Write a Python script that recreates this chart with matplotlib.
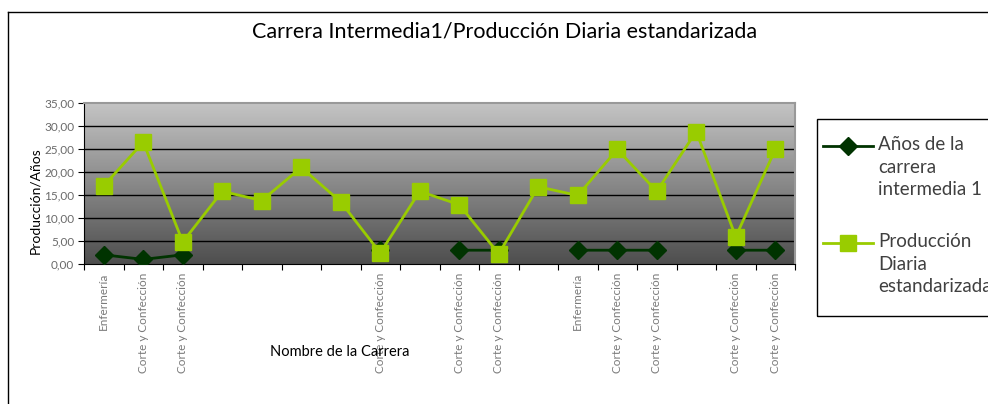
import numpy as np
import matplotlib
matplotlib.use("Agg")
import matplotlib.pyplot as plt
from matplotlib.lines import Line2D
from matplotlib.colors import LinearSegmentedColormap

plt.rcParams['font.family'] = ['Lato', 'DejaVu Sans']

categories = ["Enfermería", "Corte y Confección", "Corte y Confección", "", "", "", "",
              "Corte y Confección", "", "Corte y Confección", "Corte y Confección", "",
              "Enfermería", "Corte y Confección", "Corte y Confección", "",
              "Corte y Confección", "Corte y Confección"]
anios = [2, 1, 2, np.nan, np.nan, np.nan, np.nan, 3, np.nan, 3, 3, np.nan,
         3, 3, 3, np.nan, 3, 3]
produccion = [17, 26.5, 4.8, 15.8, 13.8, 21, 13.5, 2.4, 15.8, 12.9, 2.2, 16.8,
              14.9, 24.9, 15.8, 28.8, 5.9, 24.9]
yticks = [0, 5, 10, 15, 20, 25, 30, 35]
legend_labels = ["Años de la\ncarrera\nintermedia 1", "Producción\nDiaria\nestandarizada"]

DARK = '#003300'
GREEN = '#99cc00'

W, H = 988, 404
fig = plt.figure(figsize=(W / 100, H / 100), dpi=100)
fig.patch.set_facecolor('white')

ax = fig.add_axes([84 / W, 1 - 264 / H, 711 / W, 161 / H])
x = np.arange(len(categories))

# gradient background (light at top, dark at bottom)
cmap = LinearSegmentedColormap.from_list('g', ['#4e4e4e', '#c4c4c4'])
grad = np.linspace(0, 1, 256).reshape(-1, 1)
ax.imshow(grad, cmap=cmap, aspect='auto', origin='lower',
          extent=[-0.5, len(x) - 0.5, 0, 35], zorder=0, interpolation='bilinear')
ax.set_ylim(0, 35)
ax.set_xlim(-0.5, len(x) - 0.5)

for yv in yticks[1:-1]:
    ax.axhline(yv, color='black', lw=1.0, zorder=1)

ax.plot(x, anios, color=DARK, lw=2.0, marker='D', markersize=9,
        markerfacecolor=DARK, markeredgecolor=DARK, zorder=3)
ax.plot(x, produccion, color=GREEN, lw=2.0, marker='s', markersize=12,
        markerfacecolor=GREEN, markeredgecolor=GREEN, zorder=4)

ax.set_yticks(yticks)
ax.set_yticklabels([f"{v:.2f}".replace('.', ',') for v in yticks], fontsize=8.5,
                   color='#6a6a6a')
ax.set_xticks(np.arange(len(x) + 1) - 0.5)
ax.set_xticklabels([])
ax.set_xticks(x, minor=True)
ax.set_xticklabels(categories, minor=True, rotation=90, fontsize=8.5, color='#7a7a7a',
                   va='top', ha='center')
ax.tick_params(axis='x', which='minor', length=0, pad=6)
ax.tick_params(axis='x', which='major', length=4, direction='out', color='black')
ax.tick_params(axis='y', length=4, direction='out', color='black', pad=3)
for s in ['top', 'right']:
    ax.spines[s].set_color('#999999')
    ax.spines[s].set_linewidth(1.5)
ax.spines['left'].set_color('black')
ax.spines['bottom'].set_color('black')

fig.text(35 / W, 1 - 201 / H, "Producción/Años", rotation=90, ha='center', va='center',
         fontsize=10, color='black')
fig.text(340 / W, 1 - 352 / H, "Nombre de la Carrera", ha='center', va='center',
         fontsize=10.5, color='black')
fig.text(505 / W, 1 - 32 / H, "Carrera Intermedia1/Producción Diaria estandarizada",
         ha='center', va='center', fontsize=15.5, color='black')

# outer chart border
fig.add_artist(Line2D([8 / W, 8 / W], [0, 1 - 12 / H], transform=fig.transFigure,
                      color='black', lw=1))
fig.add_artist(Line2D([8 / W, 1], [1 - 12 / H, 1 - 12 / H], transform=fig.transFigure,
                      color='black', lw=1))

# legend box (drawn manually so handles align with the first label line)
fig.add_artist(plt.Rectangle((817 / W, 1 - 316 / H), 200 / W, 197 / H,
                             transform=fig.transFigure, fill=False, ec='black', lw=1))
styles = [dict(color=DARK, marker='D', markersize=9), dict(color=GREEN, marker='s', markersize=12)]
for i, (lab, st) in enumerate(zip(legend_labels, styles)):
    yc = 146 + i * 97
    fig.add_artist(Line2D([823 / W, 873 / W], [1 - yc / H, 1 - yc / H],
                          transform=fig.transFigure, lw=2.0, color=st['color']))
    fig.add_artist(Line2D([848 / W], [1 - yc / H], transform=fig.transFigure,
                          lw=0, **st))
    fig.text(878 / W, 1 - (yc - 10) / H, lab, ha='left', va='top', fontsize=13.5,
             color='#404040', linespacing=1.4)

fig.savefig('out.png', dpi=100)
